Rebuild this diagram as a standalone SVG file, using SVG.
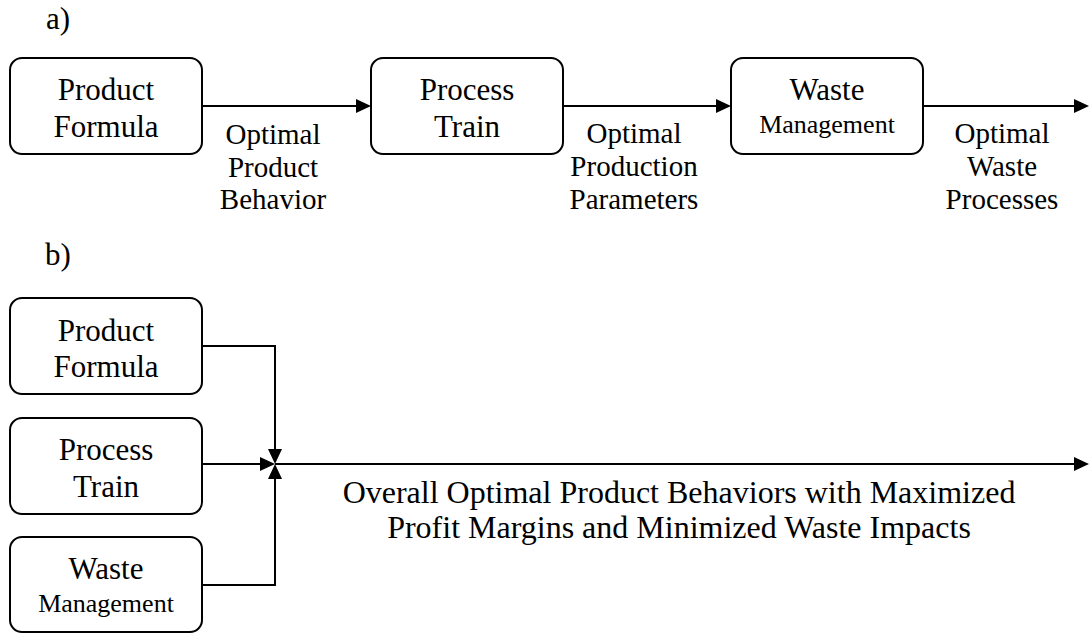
<svg xmlns="http://www.w3.org/2000/svg" width="1090" height="634" viewBox="0 0 1090 634">
<style>
  .box { fill: #ffffff; stroke: #000000; stroke-width: 2; }
  .t { font-family: "Liberation Serif", "Times New Roman", serif; fill: #000000; text-anchor: middle; }
  .big { font-size: 31px; }
  .small { font-size: 26px; }
  .lab { font-size: 29px; }
  .bot { font-size: 32px; }
  .tag { font-family: "Liberation Serif", "Times New Roman", serif; font-size: 31px; fill: #000000; }
  .conn { fill: none; stroke: #000000; stroke-width: 2; }
</style>
<defs>
  <marker id="arr" viewBox="0 0 15 14" refX="13" refY="7" markerWidth="15" markerHeight="14" markerUnits="userSpaceOnUse" orient="auto">
    <path d="M0,0 L15,7 L0,14 z" fill="#000000"/>
  </marker>
</defs>
<rect width="1090" height="634" fill="#ffffff"/>

<text class="tag" x="46" y="29">a)</text>
<text class="tag" x="45" y="265">b)</text>

<g id="connectors">
  <path class="conn" d="M202,106 H369" marker-end="url(#arr)"/>
  <path class="conn" d="M563,106 H729" marker-end="url(#arr)"/>
  <path class="conn" d="M923,106 H1087" marker-end="url(#arr)"/>
  <path class="conn" d="M202,346 H275 V462" marker-end="url(#arr)"/>
  <path class="conn" d="M202,464 H273" marker-end="url(#arr)"/>
  <path class="conn" d="M202,585 H275 V466" marker-end="url(#arr)"/>
  <path class="conn" d="M275,464 H1087" marker-end="url(#arr)"/>
</g>

<g id="a-product-formula">
  <rect class="box" x="10" y="58" width="192" height="96" rx="12"/>
  <text class="t big" x="106" y="100">Product</text>
  <text class="t big" x="106" y="137">Formula</text>
</g>
<g id="a-process-train">
  <rect class="box" x="371" y="58" width="192" height="96" rx="12"/>
  <text class="t big" x="467" y="100">Process</text>
  <text class="t big" x="467" y="137">Train</text>
</g>
<g id="a-waste-management">
  <rect class="box" x="731" y="58" width="192" height="96" rx="12"/>
  <text class="t big" x="827" y="100">Waste</text>
  <text class="t small" x="827" y="133">Management</text>
</g>

<g id="a-label-1">
  <text class="t lab" x="273" y="144">Optimal</text>
  <text class="t lab" x="273" y="177">Product</text>
  <text class="t lab" x="273" y="209">Behavior</text>
</g>
<g id="a-label-2">
  <text class="t lab" x="634" y="143">Optimal</text>
  <text class="t lab" x="634" y="176">Production</text>
  <text class="t lab" x="634" y="209">Parameters</text>
</g>
<g id="a-label-3">
  <text class="t lab" x="1002" y="143">Optimal</text>
  <text class="t lab" x="1002" y="176">Waste</text>
  <text class="t lab" x="1002" y="209">Processes</text>
</g>

<g id="b-product-formula">
  <rect class="box" x="10" y="298" width="192" height="96" rx="12"/>
  <text class="t big" x="106" y="341">Product</text>
  <text class="t big" x="106" y="377">Formula</text>
</g>
<g id="b-process-train">
  <rect class="box" x="10" y="418" width="192" height="96" rx="12"/>
  <text class="t big" x="106" y="460">Process</text>
  <text class="t big" x="106" y="497">Train</text>
</g>
<g id="b-waste-management">
  <rect class="box" x="10" y="537" width="192" height="95" rx="12"/>
  <text class="t big" x="106" y="579">Waste</text>
  <text class="t small" x="106" y="612">Management</text>
</g>

<g id="b-label">
  <text class="t bot" x="679" y="503">Overall Optimal Product Behaviors with Maximized</text>
  <text class="t bot" x="679" y="538">Profit Margins and Minimized Waste Impacts</text>
</g>
</svg>
